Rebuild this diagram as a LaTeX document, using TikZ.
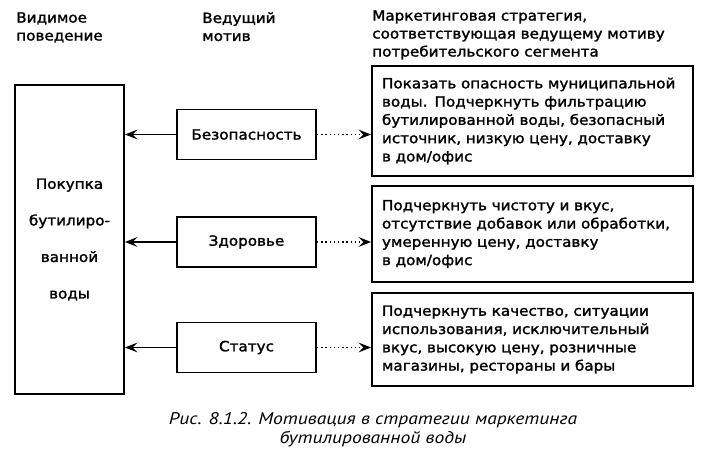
\documentclass[tikz,border=0pt]{standalone}
\usepackage{fontspec}
\setmainfont[FakeBold=1.6, FakeStretch=1.08]{DejaVu Sans}
\newfontfamily\capfont[FakeStretch=1.16]{PT Sans}
\usetikzlibrary{arrows.meta}
\usetikzlibrary{positioning}
\tikzset{>={Stealth[length=9pt,width=7pt,inset=3.5pt]},
         box/.style = {draw, line width=1.3pt},
         behaviour/.style = {box, minimum width=2.725cm, minimum height=7.725cm,
                             align=center, font=\fontsize{10}{26}\selectfont},
         motive/.style = {box, minimum width=3.475cm, minimum height=1.25cm},
         strategy/.style = {box, text width=7.525cm, inner xsep=0.25cm,
                            minimum height=#1, align=left,
                            font=\fontsize{10}{13}\selectfont},
         heading/.style = {anchor=north west, inner sep=0pt, align=left}}
\begin{document}
\begin{tikzpicture}[font=\fontsize{10}{12.8}\selectfont]
    \useasboundingbox [fill=white] (0, 0) rectangle (17.6, -11.775);

    \node [heading] (seen) at (0.4, -0.3) {Видимое\\поведение};
    \node [heading] (lead) at (5.05, -0.3) {Ведущий\\мотив};
    \node [heading] (plan) at (9.3, -0.25)
      {Маркетинговая стратегия,\\соответствующая ведущему мотиву\\потребительского сегмента};

    \node [behaviour] (buy) at (1.7375, -5.9875) {Покупка\\бутилиро-\\ванной\\воды};

    \node [motive] (safety) at (6.1625, -3.3625) {Безопасность};
    \node [motive] (health) at (6.1625, -6.05) {Здоровье};
    \node [motive] (status) at (6.1625, -8.6875) {Статус};

    \node [strategy=2.75cm] (safetyplan) at (13.3125, -3.025)
      {Показать опасность муниципальной\\воды. Подчеркнуть фильтрацию\\бутилированной воды, безопасный\\источник, низкую цену, доставку\\в дом/офис};
    \node [strategy=2.4cm] (healthplan) at (13.3125, -5.85)
      {Подчеркнуть чистоту и вкус,\\отсутствие добавок или обработки,\\умеренную цену, доставку\\в дом/офис};
    \node [strategy=2.325cm] (statusplan) at (13.3125, -8.4875)
      {Подчеркнуть качество, ситуации\\использования, исключительный\\вкус, высокую цену, розничные\\магазины, рестораны и бары};

    \foreach \m/\p in {safety/safetyplan, health/healthplan, status/statusplan} {
      \draw [->, line width=1pt] (\m.west) -- (\m.west -| buy.east);
      \draw [->, line width=1pt, dotted] (\m.east) -- (\m.east -| \p.west);
    }

    \node [align=center, font=\capfont\itshape\fontsize{12}{13.5}\selectfont] (caption) at (9.325, -10.75)
      {Рис. 8.1.2. Мотивация в стратегии маркетинга\\бутилированной воды};
  \end{tikzpicture}
\end{document}
